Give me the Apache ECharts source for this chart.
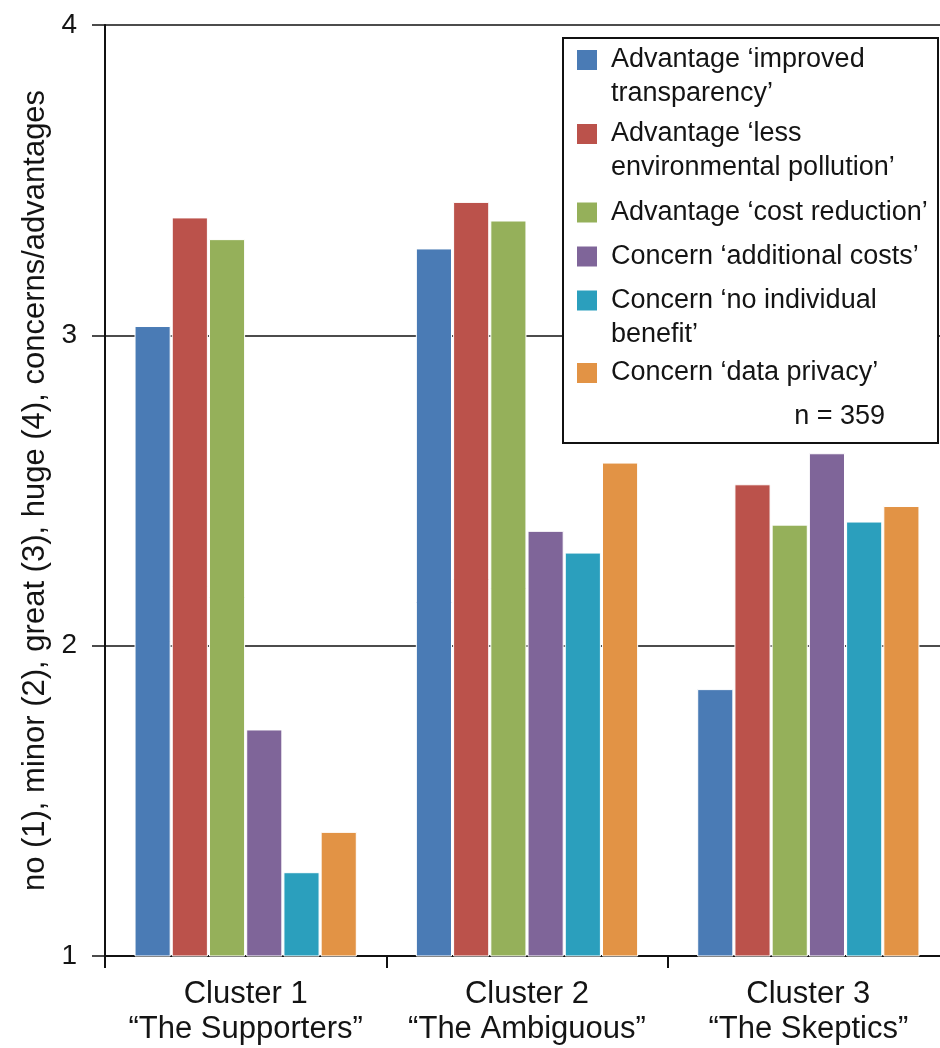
<!DOCTYPE html>
<html>
<head>
<meta charset="utf-8">
<script src="https://cdn.jsdelivr.net/npm/echarts@6/dist/echarts.min.js"></script>
<style>
  html, body { margin: 0; padding: 0; background: #fff; }
  #chart { width: 940px; height: 1048px; }
</style>
</head>
<body>
<div id="chart"></div>
<script>
// categories on the x axis
const clusters = ['Cluster 1\n\u201cThe Supporters\u201d', 'Cluster 2\n\u201cThe Ambiguous\u201d', 'Cluster 3\n\u201cThe Skeptics\u201d'];

// series names and how they are written in the legend box
const seriesNames = [
  "Advantage \u2018improved transparency\u2019",
  "Advantage \u2018less environmental pollution\u2019",
  "Advantage \u2018cost reduction\u2019",
  "Concern \u2018additional costs\u2019",
  "Concern \u2018no individual benefit\u2019",
  "Concern \u2018data privacy\u2019"
];
const legendLabels = [
  "Advantage \u2018improved\ntransparency\u2019",
  "Advantage \u2018less\nenvironmental pollution\u2019",
  "Advantage \u2018cost reduction\u2019",
  "Concern \u2018additional costs\u2019",
  "Concern \u2018no individual\nbenefit\u2019",
  "Concern \u2018data privacy\u2019"
];

// mean rating per cluster
const improvedTransparency = [3.03, 3.28, 1.86];
const lessPollution        = [3.38, 3.43, 2.52];
const costReduction        = [3.31, 3.37, 2.39];
const additionalCosts      = [1.73, 2.37, 2.62];
const noIndividualBenefit  = [1.27, 2.30, 2.40];
const dataPrivacy          = [1.40, 2.59, 2.45];

const yTicks = [1, 2, 3, 4];
const sampleNote = 'n = 359';

const allValues = [improvedTransparency, lessPollution, costReduction, additionalCosts, noIndividualBenefit, dataPrivacy];
const colors = ['#4a7bb5', '#bb524b', '#95b05a', '#7f6599', '#2b9fbd', '#e29345'];

const FONT = '"Liberation Sans", Arial, Helvetica, sans-serif';
const TEXT = '#141414';

// legend icon centres (y, px) inside the box
const legendCentres = [60, 134, 212.5, 256.5, 300.5, 373];

let legends = seriesNames.map((name, i) => {
  let twoLines = legendLabels[i].indexOf('\n') >= 0;
  // a blank first line puts the icon level with the first text line
  return {
    data: [name],
    left: 575,
    top: twoLines ? legendCentres[i] - 51 : legendCentres[i] - 17,
    padding: 0,
    orient: 'vertical',
    icon: 'rect',
    itemWidth: 22,
    itemHeight: 22,
    selectedMode: false,
    z: 20,
    formatter: () => (twoLines ? ' \n' : '') + legendLabels[i],
    textStyle: {
      fontFamily: FONT,
      fontSize: 27,
      lineHeight: 34,
      color: TEXT,
      padding: [0, 0, 0, 8]
    }
  }
})

let option = {
  animation: false,
  backgroundColor: '#fff',
  grid: { left: 105, right: -9, top: 25, bottom: 92, outerBoundsMode: 'none', containLabel: false },
  legend: legends,
  graphic: [
    {
      type: 'rect',
      z: 10,
      shape: { x: 563, y: 38, width: 375, height: 405 },
      style: { fill: '#fff', stroke: '#111', lineWidth: 2 }
    },
    {
      type: 'text',
      z: 20,
      x: 885,
      y: 417,
      style: {
        text: sampleNote,
        fontFamily: FONT,
        fontSize: 27,
        fill: TEXT,
        align: 'right',
        verticalAlign: 'middle'
      }
    }
  ],
  xAxis: {
    type: 'category',
    data: clusters,
    axisLine: { lineStyle: { color: '#111', width: 2 } },
    axisTick: { show: true, interval: 0, length: 12, lineStyle: { color: '#111', width: 2 } },
    axisLabel: {
      interval: 0,
      hideOverlap: false,
      margin: 21,
      fontFamily: FONT,
      fontSize: 31,
      lineHeight: 35,
      color: TEXT
    }
  },
  yAxis: {
    type: 'value',
    min: yTicks[0],
    max: yTicks[yTicks.length - 1],
    interval: 1,
    name: 'no (1), minor (2), great (3), huge (4), concerns/advantages',
    nameLocation: 'middle',
    nameRotate: 90,
    nameGap: 54,
    nameTextStyle: { fontFamily: FONT, fontSize: 31, color: TEXT },
    axisLine: { show: true, lineStyle: { color: '#111', width: 2 } },
    axisTick: { show: true, length: 13, lineStyle: { color: '#111', width: 1.5 } },
    axisLabel: {
      margin: 28,
      fontFamily: FONT,
      fontSize: 28,
      color: TEXT
    },
    splitLine: { show: true, lineStyle: { color: '#111', width: 1.6 } }
  },
  series: seriesNames.map((name, i) => ({
    name: name,
    type: 'bar',
    data: allValues[i],
    barGap: '3%',
    barCategoryGap: '21%',
    itemStyle: { color: colors[i], borderColor: '#fff', borderWidth: 1 }
  }))
}

let myChart = echarts.init(document.getElementById('chart'));
myChart.setOption(option);
</script>
</body>
</html>
